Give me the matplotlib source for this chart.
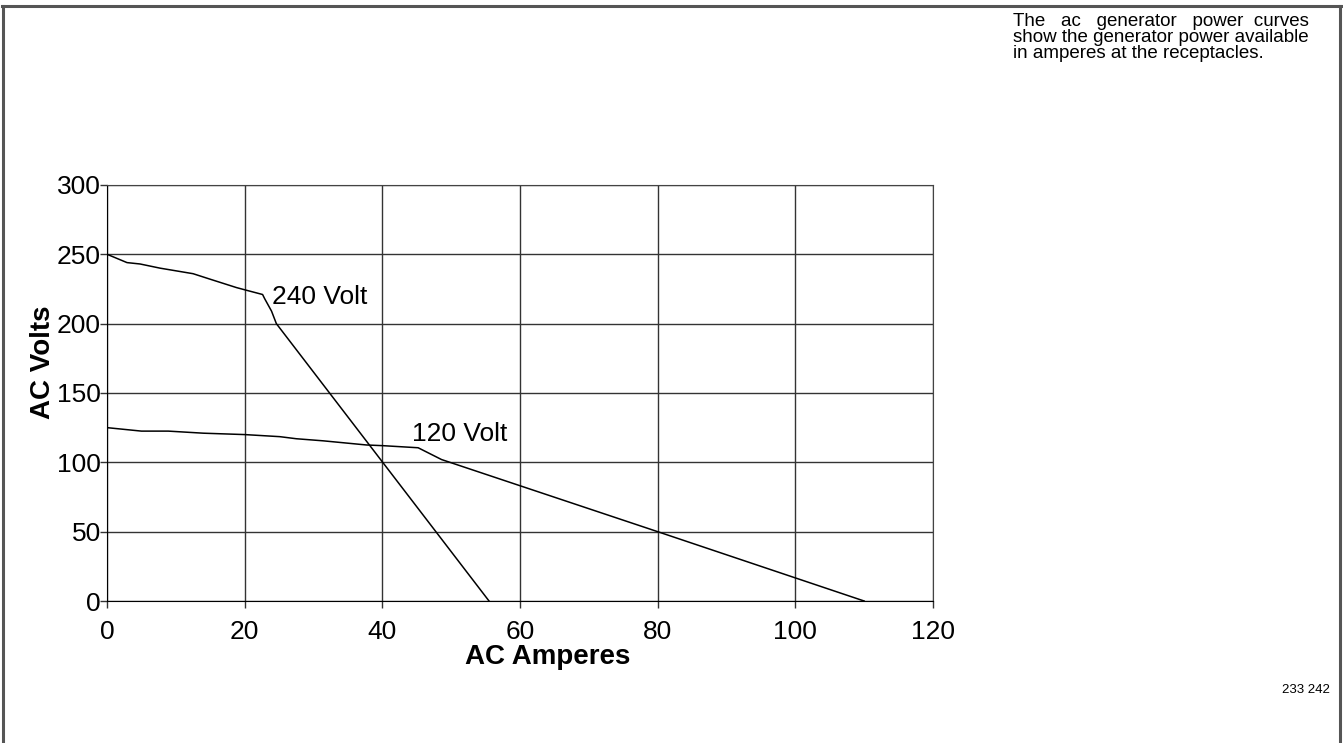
import matplotlib.pyplot as plt
from matplotlib.lines import Line2D

plt.rcParams['font.family'] = ['Liberation Sans', 'DejaVu Sans']

# 240 volt curve (amperes, volts)
amps_240 = [0, 2.9, 4.8, 7.7, 10.1, 12.5, 15.0, 18.8, 20.3, 22.6, 22.9, 23.9, 24.6, 55.5]
volts_240 = [250, 244, 243, 240, 238, 236, 232, 226, 224, 221, 218, 209, 200, 0]

# 120 volt curve
amps_120 = [0, 5.0, 8.9, 14.0, 20.0, 25.1, 27.5, 31.4, 37.7, 40.1, 45.2, 48.6, 80, 110]
volts_120 = [125, 122.5, 122.5, 121, 120, 118.5, 117, 115.5, 112.5, 112, 110.5, 102, 50, 0]

xticks = [0, 20, 40, 60, 80, 100, 120]
yticks = [0, 50, 100, 150, 200, 250, 300]

# first line spread out to look justified like the original
note = ("The   ac   generator   power  curves\n"
        "show the generator power available\n"
        "in amperes at the receptacles.")

fig = plt.figure(figsize=(13.43, 7.43), dpi=100)
ax = fig.add_axes([0.0797, 0.1911, 0.615, 0.560])

ax.plot(amps_240, volts_240, color='black', lw=1.1)
ax.plot(amps_120, volts_120, color='black', lw=1.1)

ax.set_xlim(0, 120)
ax.set_ylim(0, 300)
ax.set_xticks(xticks)
ax.set_yticks(yticks)
ax.grid(True, color='#333333', lw=1.0)
ax.tick_params(labelsize=19, length=5, width=1, color='#333333')
ax.tick_params(axis='x', pad=8.5)
ax.tick_params(axis='y', pad=-0.5)
for s in ['top', 'right']:
    ax.spines[s].set_color('#444444')
for s in ['left', 'bottom']:
    ax.spines[s].set_color('black')

ax.set_xlabel('AC Amperes', fontsize=20, fontweight='bold')
ax.xaxis.set_label_coords(0.534, -0.104)
ax.set_ylabel('AC Volts', fontsize=20, fontweight='bold')
ax.yaxis.set_label_coords(-0.062, 0.575)

ax.text(24.0, 219, '240 Volt', fontsize=19, va='center', ha='left')
ax.text(44.3, 120.5, '120 Volt', fontsize=19, va='center', ha='left')

fig.text(0.7543, 0.983, note, fontsize=13.5, va='top', ha='left', linespacing=0.95)
fig.text(0.9905, 0.072, '233 242', fontsize=9.5, va='center', ha='right')

# frame around the page (top, left, right)
frame = dict(color='#555555', lw=2.2, transform=fig.transFigure)
fig.add_artist(Line2D([0.0015, 0.9985], [0.9915, 0.9915], **frame))
fig.add_artist(Line2D([0.0022, 0.0022], [0, 0.9915], **frame))
fig.add_artist(Line2D([0.9978, 0.9978], [0, 0.9915], **frame))

fig.savefig('out.png', dpi=100)
